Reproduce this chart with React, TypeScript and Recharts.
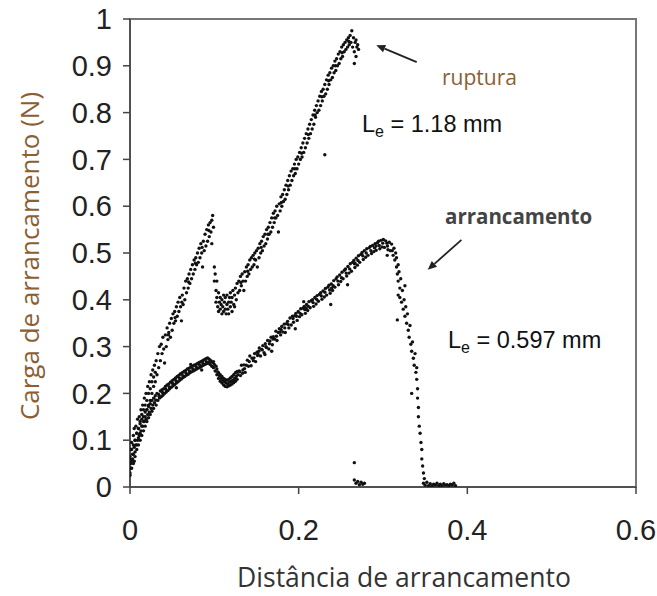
import { ScatterChart, Scatter, XAxis, YAxis, ReferenceArea, ReferenceLine } from 'recharts';

// ruptura test (Le = 1.18 mm): [distance, load]
const rupturaInitial: [number, number][] = [
  [0.000, 0.025], [0.000, 0.060], [0.001, 0.080], [0.001, 0.040], [0.002, 0.095], [0.002, 0.055],
  [0.003, 0.070], [0.004, 0.110], [0.004, 0.050], [0.005, 0.085], [0.005, 0.125], [0.006, 0.100],
  [0.006, 0.065], [0.007, 0.130], [0.008, 0.090], [0.008, 0.115], [0.009, 0.145], [0.010, 0.105],
  [0.010, 0.125], [0.011, 0.150], [0.012, 0.115], [0.012, 0.140], [0.013, 0.165], [0.014, 0.130],
  [0.014, 0.155], [0.015, 0.175], [0.016, 0.140], [0.016, 0.165], [0.017, 0.190], [0.018, 0.150],
  [0.018, 0.175], [0.019, 0.200], [0.020, 0.165], [0.020, 0.185], [0.021, 0.215], [0.022, 0.175],
  [0.022, 0.200], [0.023, 0.225], [0.024, 0.185], [0.024, 0.210], [0.025, 0.240], [0.026, 0.200],
  [0.026, 0.225], [0.027, 0.250], [0.028, 0.215], [0.028, 0.235], [0.029, 0.260], [0.030, 0.225],
  [0.030, 0.245], [0.031, 0.270], [0.032, 0.240], [0.033, 0.285], [0.034, 0.255], [0.035, 0.300],
  [0.036, 0.270], [0.037, 0.305], [0.038, 0.285], [0.039, 0.320], [0.040, 0.295], [0.041, 0.265],
  [0.042, 0.325], [0.043, 0.300], [0.044, 0.340], [0.045, 0.315], [0.046, 0.330], [0.047, 0.350],
  [0.048, 0.320], [0.049, 0.360], [0.050, 0.335], [0.051, 0.370], [0.052, 0.350], [0.053, 0.375],
  [0.054, 0.355], [0.055, 0.385], [0.056, 0.365], [0.057, 0.395], [0.058, 0.375], [0.059, 0.405],
  [0.060, 0.385], [0.061, 0.355], [0.062, 0.410], [0.063, 0.390], [0.064, 0.425], [0.065, 0.400],
  [0.066, 0.440], [0.067, 0.415], [0.068, 0.445], [0.069, 0.425], [0.070, 0.455], [0.071, 0.435],
  [0.072, 0.465], [0.073, 0.445], [0.074, 0.475], [0.075, 0.455], [0.076, 0.485], [0.077, 0.465],
  [0.078, 0.490], [0.079, 0.475], [0.080, 0.500], [0.081, 0.480], [0.082, 0.510], [0.083, 0.490],
  [0.084, 0.520], [0.085, 0.500], [0.086, 0.470], [0.087, 0.525], [0.088, 0.505], [0.089, 0.540],
  [0.090, 0.515], [0.091, 0.550], [0.092, 0.525], [0.093, 0.560], [0.094, 0.535], [0.095, 0.565],
  [0.096, 0.545], [0.097, 0.520], [0.097, 0.570], [0.098, 0.580], [0.099, 0.555],
];

const rupturaInitialMid: [number, number][] = [
  [0.0455, 0.325], [0.0535, 0.362], [0.0615, 0.395], [0.0695, 0.438], [0.0775, 0.478],
  [0.0855, 0.512], [0.0935, 0.548],
];

const rupturaRecovery: [number, number][] = [
  [0.100, 0.470], [0.100, 0.440], [0.101, 0.455], [0.102, 0.420], [0.102, 0.395], [0.103, 0.440],
  [0.103, 0.405], [0.104, 0.385], [0.105, 0.415], [0.105, 0.375], [0.106, 0.395], [0.107, 0.380],
  [0.107, 0.405], [0.108, 0.390], [0.109, 0.370], [0.109, 0.400], [0.110, 0.385], [0.111, 0.410],
  [0.111, 0.375], [0.112, 0.395], [0.113, 0.380], [0.113, 0.405], [0.114, 0.370], [0.115, 0.390],
  [0.115, 0.410], [0.116, 0.380], [0.117, 0.395], [0.117, 0.370], [0.118, 0.405], [0.119, 0.385],
  [0.119, 0.415], [0.120, 0.395], [0.121, 0.375], [0.121, 0.405], [0.122, 0.420], [0.123, 0.390],
  [0.124, 0.410], [0.124, 0.385], [0.125, 0.425], [0.126, 0.400], [0.127, 0.435], [0.128, 0.415],
  [0.129, 0.440], [0.130, 0.420], [0.131, 0.450], [0.132, 0.430], [0.133, 0.455], [0.134, 0.440],
  [0.135, 0.420], [0.136, 0.460], [0.137, 0.440], [0.138, 0.470], [0.139, 0.450], [0.140, 0.475],
  [0.141, 0.455], [0.142, 0.485], [0.143, 0.465], [0.144, 0.490], [0.145, 0.470], [0.146, 0.495],
  [0.147, 0.475], [0.148, 0.500], [0.149, 0.485], [0.150, 0.505], [0.151, 0.470], [0.152, 0.510],
  [0.153, 0.490], [0.154, 0.520], [0.155, 0.500], [0.156, 0.525], [0.157, 0.505], [0.158, 0.535],
  [0.159, 0.515], [0.160, 0.540], [0.161, 0.520], [0.162, 0.550], [0.163, 0.530], [0.164, 0.555],
  [0.165, 0.540], [0.166, 0.565], [0.167, 0.545], [0.168, 0.575], [0.169, 0.555], [0.170, 0.585],
  [0.171, 0.565], [0.172, 0.590], [0.173, 0.575], [0.174, 0.600], [0.175, 0.580], [0.176, 0.545],
  [0.177, 0.605], [0.178, 0.590], [0.179, 0.620], [0.180, 0.600], [0.181, 0.625], [0.182, 0.610],
  [0.183, 0.635], [0.184, 0.615], [0.185, 0.645], [0.186, 0.625], [0.187, 0.655], [0.188, 0.635],
  [0.189, 0.665], [0.190, 0.645], [0.191, 0.675], [0.192, 0.655], [0.193, 0.680], [0.194, 0.665],
  [0.195, 0.690], [0.196, 0.670], [0.197, 0.700], [0.198, 0.680], [0.199, 0.705], [0.200, 0.690],
  [0.201, 0.715], [0.202, 0.700], [0.203, 0.725], [0.204, 0.705], [0.205, 0.735], [0.206, 0.715],
  [0.207, 0.745], [0.208, 0.725], [0.209, 0.755], [0.210, 0.735], [0.211, 0.765], [0.212, 0.745],
  [0.213, 0.775], [0.214, 0.755], [0.215, 0.785], [0.216, 0.765], [0.217, 0.795], [0.218, 0.775],
  [0.219, 0.805], [0.220, 0.790], [0.221, 0.815], [0.222, 0.800], [0.223, 0.825], [0.224, 0.805],
  [0.225, 0.835], [0.226, 0.815], [0.227, 0.845], [0.228, 0.825], [0.229, 0.850], [0.230, 0.835],
  [0.231, 0.710], [0.231, 0.860], [0.232, 0.840], [0.233, 0.870], [0.234, 0.850], [0.235, 0.880],
  [0.236, 0.860], [0.237, 0.885], [0.238, 0.870], [0.239, 0.895], [0.240, 0.875], [0.241, 0.900],
  [0.242, 0.885], [0.243, 0.910], [0.244, 0.890], [0.245, 0.915], [0.246, 0.900], [0.247, 0.925],
  [0.248, 0.905], [0.249, 0.930], [0.250, 0.915], [0.251, 0.940], [0.252, 0.920], [0.253, 0.945],
  [0.254, 0.930], [0.255, 0.950], [0.256, 0.935], [0.257, 0.955], [0.258, 0.940], [0.259, 0.960],
  [0.260, 0.945], [0.261, 0.965], [0.262, 0.950], [0.263, 0.975], [0.264, 0.940], [0.265, 0.960],
  [0.266, 0.930], [0.266, 0.905], [0.267, 0.950], [0.268, 0.955], [0.268, 0.920], [0.269, 0.940],
  [0.270, 0.945], [0.271, 0.935],
];

const rupturaRecoveryMid: [number, number][] = [
  [0.1315, 0.437], [0.1395, 0.461], [0.1475, 0.487], [0.1555, 0.512], [0.1635, 0.540],
  [0.1715, 0.575], [0.1795, 0.608], [0.1875, 0.643], [0.1955, 0.680], [0.2035, 0.713],
  [0.2115, 0.753], [0.2195, 0.795], [0.2275, 0.834], [0.2355, 0.868], [0.2435, 0.900],
  [0.2515, 0.928], [0.2595, 0.952],
];

const rupturaBreak: [number, number][] = [
  [0.266, 0.052], [0.266, 0.015], [0.268, 0.008], [0.270, 0.012], [0.272, 0.005], [0.274, 0.010],
  [0.276, 0.006], [0.278, 0.008],
];

// arrancamento test (Le = 0.597 mm)
const arrancamentoRise: [number, number][] = [
  [0.000, 0.030], [0.000, 0.065], [0.001, 0.050], [0.002, 0.080], [0.002, 0.040], [0.003, 0.060],
  [0.004, 0.090], [0.004, 0.070], [0.005, 0.055], [0.006, 0.100], [0.006, 0.075], [0.007, 0.090],
  [0.008, 0.115], [0.008, 0.080], [0.009, 0.100], [0.010, 0.125], [0.010, 0.090], [0.011, 0.110],
  [0.012, 0.135], [0.012, 0.100], [0.013, 0.120], [0.014, 0.145], [0.014, 0.110], [0.015, 0.130],
  [0.016, 0.150], [0.016, 0.120], [0.017, 0.140], [0.018, 0.160], [0.018, 0.130], [0.019, 0.145],
  [0.020, 0.165], [0.020, 0.140], [0.021, 0.155], [0.022, 0.172], [0.022, 0.148], [0.023, 0.160],
  [0.024, 0.178], [0.024, 0.155], [0.025, 0.168], [0.026, 0.185], [0.026, 0.162], [0.027, 0.175],
  [0.028, 0.190], [0.028, 0.168], [0.029, 0.180], [0.030, 0.195], [0.031, 0.175], [0.032, 0.200],
  [0.033, 0.185], [0.034, 0.198], [0.035, 0.190], [0.036, 0.205], [0.037, 0.193], [0.038, 0.208],
  [0.039, 0.196], [0.040, 0.210], [0.041, 0.200], [0.042, 0.215], [0.043, 0.203], [0.044, 0.218],
  [0.045, 0.206], [0.046, 0.220], [0.047, 0.210], [0.048, 0.224], [0.049, 0.213], [0.050, 0.227],
  [0.051, 0.216], [0.052, 0.230], [0.053, 0.219], [0.054, 0.233], [0.055, 0.222], [0.056, 0.236],
  [0.057, 0.225], [0.058, 0.239], [0.059, 0.228], [0.060, 0.242], [0.061, 0.231], [0.062, 0.244],
  [0.063, 0.234], [0.064, 0.247], [0.065, 0.236], [0.066, 0.249], [0.067, 0.239], [0.068, 0.252],
  [0.069, 0.241], [0.070, 0.254], [0.071, 0.244], [0.072, 0.256], [0.073, 0.246], [0.074, 0.258],
  [0.075, 0.248], [0.076, 0.260], [0.077, 0.250], [0.078, 0.262], [0.079, 0.252], [0.080, 0.264],
  [0.081, 0.254], [0.082, 0.266], [0.083, 0.256], [0.084, 0.268], [0.085, 0.258], [0.086, 0.270],
  [0.087, 0.260], [0.088, 0.272], [0.089, 0.262], [0.090, 0.274], [0.091, 0.264], [0.092, 0.276],
  [0.093, 0.265], [0.094, 0.273], [0.095, 0.262], [0.096, 0.270], [0.097, 0.258], [0.098, 0.266],
];

const arrancamentoRiseMid: [number, number][] = [
  [0.0305, 0.186], [0.0345, 0.194], [0.0385, 0.202], [0.0425, 0.209], [0.0465, 0.214],
  [0.0505, 0.221], [0.0545, 0.227], [0.0585, 0.233], [0.0625, 0.238], [0.0665, 0.243],
  [0.0705, 0.248], [0.0745, 0.252], [0.0785, 0.257], [0.0825, 0.261], [0.0865, 0.264],
  [0.0905, 0.268], [0.0945, 0.268], [0.055, 0.212], [0.072, 0.262], [0.085, 0.250],
];

const arrancamentoDip: [number, number][] = [
  [0.099, 0.255], [0.099, 0.268], [0.100, 0.262], [0.101, 0.248], [0.102, 0.258], [0.103, 0.240],
  [0.103, 0.252], [0.104, 0.246], [0.105, 0.232], [0.105, 0.244], [0.106, 0.238], [0.107, 0.226],
  [0.107, 0.240], [0.108, 0.232], [0.109, 0.222], [0.109, 0.236], [0.110, 0.228], [0.111, 0.218],
  [0.111, 0.232], [0.112, 0.225], [0.113, 0.215], [0.113, 0.230], [0.114, 0.222], [0.115, 0.214],
  [0.115, 0.228], [0.116, 0.220], [0.117, 0.216], [0.117, 0.230], [0.118, 0.224], [0.119, 0.218],
  [0.119, 0.233], [0.120, 0.226], [0.121, 0.220], [0.121, 0.236], [0.122, 0.228], [0.123, 0.223],
  [0.123, 0.240], [0.124, 0.232], [0.125, 0.226], [0.125, 0.244], [0.126, 0.236], [0.127, 0.230],
  [0.127, 0.247], [0.128, 0.240],
];

const arrancamentoGrowth: [number, number][] = [
  [0.1295, 0.248], [0.1310, 0.238], [0.1322, 0.260], [0.1338, 0.250], [0.1351, 0.261], [0.1366, 0.245],
  [0.1379, 0.260], [0.1392, 0.271], [0.1405, 0.258], [0.1421, 0.280], [0.1436, 0.259], [0.1448, 0.275],
  [0.1463, 0.270], [0.1477, 0.285], [0.1490, 0.268], [0.1506, 0.288], [0.1519, 0.283], [0.1533, 0.297],
  [0.1548, 0.280], [0.1561, 0.294], [0.1575, 0.302], [0.1590, 0.287], [0.1604, 0.306], [0.1617, 0.298],
  [0.1632, 0.313], [0.1646, 0.295], [0.1659, 0.312], [0.1673, 0.320], [0.1688, 0.304], [0.1701, 0.321],
  [0.1716, 0.316], [0.1730, 0.333], [0.1743, 0.313], [0.1758, 0.330], [0.1771, 0.338], [0.1786, 0.325],
  [0.1799, 0.343], [0.1814, 0.331], [0.1828, 0.348], [0.1841, 0.330], [0.1856, 0.349], [0.1869, 0.354],
  [0.1884, 0.340], [0.1897, 0.361], [0.1912, 0.346], [0.1926, 0.365], [0.1939, 0.352], [0.1954, 0.366],
  [0.1967, 0.371], [0.1982, 0.356], [0.1995, 0.375], [0.2010, 0.364], [0.2024, 0.381], [0.2037, 0.368],
  [0.2052, 0.382], [0.2066, 0.386], [0.2079, 0.371], [0.2094, 0.390], [0.2107, 0.377], [0.2122, 0.396],
  [0.2136, 0.383], [0.2149, 0.398], [0.2164, 0.400], [0.2177, 0.386], [0.2192, 0.405], [0.2206, 0.391],
  [0.2219, 0.409], [0.2234, 0.397], [0.2247, 0.412], [0.2262, 0.415], [0.2276, 0.401], [0.2289, 0.419],
  [0.2304, 0.406], [0.2317, 0.424], [0.2332, 0.410], [0.2346, 0.427], [0.2359, 0.431], [0.2374, 0.414],
  [0.2387, 0.434], [0.2402, 0.420], [0.2416, 0.441], [0.2429, 0.427], [0.2444, 0.445], [0.2457, 0.449],
  [0.2472, 0.432], [0.2486, 0.453], [0.2499, 0.439], [0.2514, 0.459], [0.2527, 0.445], [0.2542, 0.463],
  [0.2556, 0.466], [0.2569, 0.451], [0.2584, 0.471], [0.2597, 0.457], [0.2612, 0.477], [0.2626, 0.461],
  [0.2639, 0.480], [0.2654, 0.484], [0.2667, 0.469], [0.2682, 0.489], [0.2696, 0.474], [0.2709, 0.494],
  [0.2724, 0.480], [0.2737, 0.497], [0.2752, 0.501], [0.2766, 0.486], [0.2779, 0.505], [0.2794, 0.491],
  [0.2807, 0.509], [0.2822, 0.495], [0.2836, 0.511], [0.2849, 0.514], [0.2864, 0.499], [0.2877, 0.516],
  [0.2892, 0.503], [0.2906, 0.520], [0.2919, 0.506], [0.2934, 0.522], [0.2947, 0.525], [0.2962, 0.509],
  [0.2976, 0.527], [0.2989, 0.513], [0.3004, 0.529], [0.3017, 0.512], [0.3032, 0.526], [0.3046, 0.521],
  [0.3059, 0.507], [0.3074, 0.523], [0.3087, 0.505], [0.3102, 0.519], [0.168, 0.290], [0.196, 0.338],
  [0.238, 0.390], [0.206, 0.396], [0.160, 0.283], [0.305, 0.495], [0.258, 0.432], [0.1335, 0.243],
  [0.1527, 0.290], [0.1779, 0.331], [0.2088, 0.382], [0.2391, 0.425], [0.2668, 0.478], [0.2918, 0.515],
];

const arrancamentoGrowthMid: [number, number][] = [
  [0.1302, 0.246], [0.1358, 0.253], [0.1414, 0.268], [0.1470, 0.276], [0.1512, 0.281], [0.1568, 0.293],
  [0.1611, 0.300], [0.1653, 0.306], [0.1695, 0.316], [0.1737, 0.322], [0.1793, 0.336], [0.1835, 0.340],
  [0.1877, 0.347], [0.1933, 0.360], [0.1975, 0.365], [0.2017, 0.371], [0.2073, 0.379], [0.2115, 0.386],
  [0.2171, 0.394], [0.2213, 0.401], [0.2269, 0.408], [0.2311, 0.416], [0.2367, 0.421], [0.2409, 0.430],
  [0.2465, 0.440], [0.2507, 0.447], [0.2563, 0.457], [0.2605, 0.466], [0.2661, 0.477], [0.2703, 0.484],
  [0.2759, 0.494], [0.2801, 0.500], [0.2857, 0.505], [0.2899, 0.511], [0.2955, 0.516], [0.2997, 0.521],
  [0.3053, 0.515],
];

const arrancamentoDrop: [number, number][] = [
  [0.311, 0.505], [0.312, 0.495], [0.313, 0.510], [0.314, 0.485], [0.315, 0.500], [0.316, 0.470],
  [0.316, 0.490], [0.317, 0.455], [0.318, 0.475], [0.318, 0.440], [0.319, 0.460], [0.320, 0.425],
  [0.320, 0.405], [0.321, 0.445], [0.322, 0.395], [0.323, 0.420], [0.324, 0.380], [0.325, 0.400],
  [0.326, 0.365], [0.327, 0.385], [0.328, 0.350], [0.329, 0.370], [0.330, 0.335], [0.331, 0.320],
  [0.332, 0.345], [0.333, 0.305], [0.334, 0.290], [0.335, 0.310], [0.336, 0.275], [0.337, 0.260],
  [0.338, 0.285], [0.339, 0.245], [0.340, 0.230], [0.340, 0.255], [0.341, 0.210], [0.341, 0.190],
  [0.342, 0.170], [0.342, 0.150], [0.343, 0.130], [0.344, 0.115], [0.345, 0.095], [0.346, 0.080],
  [0.346, 0.060], [0.347, 0.045], [0.348, 0.030], [0.349, 0.018], [0.317, 0.357], [0.326, 0.430],
  [0.334, 0.200], [0.318, 0.410],
];

const arrancamentoTail: [number, number][] = [
  [0.348, 0.008], [0.350, 0.004], [0.352, 0.010], [0.354, 0.003], [0.356, 0.007], [0.358, 0.002],
  [0.360, 0.006], [0.362, 0.004], [0.364, 0.008], [0.366, 0.003], [0.368, 0.006], [0.370, 0.002],
  [0.372, 0.007], [0.374, 0.004], [0.376, 0.005], [0.378, 0.003], [0.380, 0.006], [0.382, 0.004],
  [0.384, 0.008], [0.386, 0.003],
];

const xTicks = [0, 0.2, 0.4, 0.6];
const yTicks = [0, 0.1, 0.2, 0.3, 0.4, 0.5, 0.6, 0.7, 0.8, 0.9, 1];

// arrows: [tail, head] in data coordinates
const rupturaArrow = [{ x: 0.340, y: 0.908 }, { x: 0.292, y: 0.944 }];
const arrancamentoArrow = [{ x: 0.393, y: 0.528 }, { x: 0.353, y: 0.464 }];

const toPoints = (...parts: [number, number][][]) =>
  parts.flat().map(([x, y]) => ({ x, y }));

const rupturaData = toPoints(rupturaInitial, rupturaInitialMid, rupturaRecovery, rupturaRecoveryMid, rupturaBreak);
const arrancamentoData = toPoints(
  arrancamentoRise, arrancamentoRiseMid, arrancamentoDip, arrancamentoGrowth,
  arrancamentoGrowthMid, arrancamentoDrop, arrancamentoTail,
);

const numFont = '"Liberation Sans", Arial, sans-serif';
const labelFont = '"Open Sans", "Noto Sans", sans-serif';

const Dot = (props: any) => <circle cx={props.cx} cy={props.cy} r={1.7} fill="#111" />;

const Arrow = (props: any) => {
  const { x1, y1, x2, y2 } = props;
  const ang = Math.atan2(y2 - y1, x2 - x1);
  const len = 9;
  const w = 4;
  const bx = x2 - len * Math.cos(ang);
  const by = y2 - len * Math.sin(ang);
  const px = -Math.sin(ang) * w;
  const py = Math.cos(ang) * w;
  return (
    <g>
      <line x1={x1} y1={y1} x2={bx} y2={by} stroke="#222" strokeWidth={1.8} />
      <polygon points={`${x2},${y2} ${bx + px},${by + py} ${bx - px},${by - py}`} fill="#222" />
    </g>
  );
};

export default function App() {
  return (
    <div style={{ position: 'absolute', left: 0, top: 0, width: 657, height: 596, background: '#fff' }}>
      <ScatterChart width={657} height={596} margin={{ top: 19, right: 21, bottom: 49, left: 0 }}>
        <XAxis
          type="number"
          dataKey="x"
          domain={[0, 0.6]}
          ticks={xTicks}
          height={60}
          tickSize={7}
          tickMargin={25}
          axisLine={{ stroke: '#444', strokeWidth: 1.5 }}
          tickLine={{ stroke: '#444', strokeWidth: 1.5 }}
          tick={{ fill: '#222', fontSize: 29, fontFamily: numFont }}
          allowDataOverflow
        />
        <YAxis
          type="number"
          dataKey="y"
          domain={[0, 1]}
          ticks={yTicks}
          width={130}
          tickSize={7}
          tickMargin={11}
          axisLine={{ stroke: '#444', strokeWidth: 1.5 }}
          tickLine={{ stroke: '#444', strokeWidth: 1.5 }}
          tick={{ fill: '#222', fontSize: 29, fontFamily: numFont }}
          allowDataOverflow
        />
        <ReferenceArea x1={0} x2={0.6} y1={0} y2={1} fill="none" stroke="#777" strokeWidth={2} />
        <Scatter data={rupturaData} shape={Dot} isAnimationActive={false} />
        <Scatter data={arrancamentoData} shape={Dot} isAnimationActive={false} />
        <ReferenceLine segment={rupturaArrow} shape={Arrow} />
        <ReferenceLine segment={arrancamentoArrow} shape={Arrow} />
      </ScatterChart>
      <svg width={657} height={596} style={{ position: 'absolute', left: 0, top: 0, pointerEvents: 'none' }}>
        <text
          x={29}
          y={256}
          transform="rotate(-90, 29, 256)"
          textAnchor="middle"
          dominantBaseline="central"
          fill="#8B5E34"
          fontSize={26}
          fontFamily={labelFont}
        >
          Carga de arrancamento (N)
        </text>
        <text x={404} y={587} textAnchor="middle" fill="#333" fontSize={26.5} fontFamily={labelFont}>
          Distância de arrancamento
        </text>
        <text x={442} y={85} fill="#8B5E34" fontSize={21} fontFamily={labelFont}>
          ruptura
        </text>
        <text x={362} y={132} fill="#111" fontSize={23.5} fontFamily={numFont}>
          L<tspan fontSize={16} dy={5}>e</tspan>
          <tspan dy={-5}> = 1.18 mm</tspan>
        </text>
        <text x={445} y={224} fill="#444" fontSize={20.5} fontWeight="bold" fontFamily={labelFont}>
          arrancamento
        </text>
        <text x={448} y={348} fill="#111" fontSize={23.5} fontFamily={numFont}>
          L<tspan fontSize={16} dy={5}>e</tspan>
          <tspan dy={-5}> = 0.597 mm</tspan>
        </text>
      </svg>
    </div>
  );
}
